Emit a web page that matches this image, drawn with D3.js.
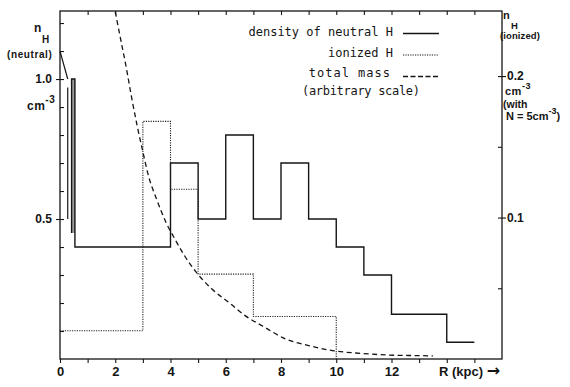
<!DOCTYPE html>
<html><head><meta charset="utf-8">
<script src="https://cdn.jsdelivr.net/npm/d3@7/dist/d3.min.js"></script>
<style>
html,body{margin:0;padding:0;background:#fff;}
svg{display:block;}
</style></head><body>
<svg id="c" width="570" height="387"></svg>
<script>
// ---------- data ----------
const xTickValues = [0,1,2,3,4,5,6,7,8,9,10,11,12,13,14,15];
const xTickLabels = ["0","","2","","4","","6","","8","","10","","12","","",""];
const leftTickValues = [0.1,0.2,0.3,0.4,0.5,0.6,0.7,0.8,0.9,1.0,1.1,1.2];
const leftTickLabels = ["","","","","0.5","","","","","1.0","",""];
const rightTickValues = [0.05,0.1,0.15,0.2];
const rightTickLabels = ["","0.1","","0.2"];

// density of neutral H (left scale), step edges R (kpc) and levels
const neutralR = [0.42,0.42,0.54,4,5,6,7,8,9,10,11,12,14,15];
const neutralN = [0.45,1.00,0.40,0.70,0.50,0.80,0.50,0.70,0.50,0.40,0.30,0.16,0.06,0.06];
// central feature of neutral H
const coreDiagR = [0,0.28];
const coreDiagN = [1.10,1.00];
const coreSpikeR = [0.28,0.28];
const coreSpikeN = [0.97,0.50];
const coreBarR = [0.44,0.54];
const coreBarN = [0.45,1.00];

// ionized H (right scale)
const ionizedR = [0,3,4,5,7,10];
const ionizedN = [0.020,0.168,0.120,0.060,0.030,0];

// total mass (arbitrary scale, plotted on left scale)
const massR = [2.0,2.2,2.4,2.6,2.8,3.0,3.2,3.5,3.85,4.15,4.5,4.93,5.5,6.14,6.7,7.33,8.18,9.0,9.86,10.9,11.91,13.0,13.5];
const massV = [1.24,1.14,1.04,0.93,0.83,0.74,0.655,0.57,0.485,0.43,0.37,0.31,0.25,0.20,0.155,0.118,0.071,0.048,0.030,0.020,0.014,0.012,0.011];

const legendLabels = ["density of neutral H","ionized H","total mass","(arbitrary scale)"];

// ---------- layout ----------
const svg = d3.select("#c");
const L = 60, R = 502, T = 11, B = 359;
const x = d3.scaleLinear().domain([0,16]).range([L,R]);
const yL = d3.scaleLinear().domain([0,1.243]).range([B,T]);
const yR = d3.scaleLinear().domain([0,0.246]).range([B,T]);
const ink = "#151515";
const sans = "'Liberation Sans', Arial, sans-serif";
const mono = "'DejaVu Sans Mono', monospace";

// frame
svg.append("rect").attr("x",L).attr("y",T).attr("width",R-L).attr("height",B-T)
  .attr("fill","none").attr("stroke",ink).attr("stroke-width",1.3);

function styleAxis(g){
  g.select(".domain").remove();
  g.selectAll("line").attr("stroke",ink).attr("stroke-width",1.1);
  g.selectAll("text").attr("fill",ink);
}

// bottom axis (outward ticks, labels)
svg.append("g").attr("transform",`translate(0,${B})`)
  .call(d3.axisBottom(x).tickValues(xTickValues).tickSize(4).tickPadding(4)
    .tickFormat((d,i)=>xTickLabels[i]))
  .call(styleAxis)
  .call(g=>g.selectAll("text").attr("font-family",sans).attr("font-size",13).attr("font-weight","bold"));
// top axis (inward ticks)
svg.append("g").attr("transform",`translate(0,${T})`)
  .call(d3.axisBottom(x).tickValues(xTickValues.slice(1)).tickSize(4).tickFormat(""))
  .call(styleAxis);

// left axis: inward ticks everywhere, outward part on labelled ticks
svg.append("g").attr("transform",`translate(${L},0)`)
  .call(d3.axisRight(yL).tickValues(leftTickValues).tickSize(4).tickFormat(""))
  .call(styleAxis);
svg.append("g").attr("transform",`translate(${L},0)`)
  .call(d3.axisLeft(yL).tickValues(leftTickValues.filter((d,i)=>leftTickLabels[i]!==""))
    .tickSize(4).tickPadding(4).tickFormat(d=>leftTickLabels[leftTickValues.indexOf(d)]))
  .call(styleAxis)
  .call(g=>g.selectAll("text").attr("font-family",sans).attr("font-size",12).attr("font-weight","bold"));

// right axis
svg.append("g").attr("transform",`translate(${R},0)`)
  .call(d3.axisLeft(yR).tickValues(rightTickValues).tickSize(4).tickFormat(""))
  .call(styleAxis);
svg.append("g").attr("transform",`translate(${R},0)`)
  .call(d3.axisRight(yR).tickValues(rightTickValues.filter((d,i)=>rightTickLabels[i]!==""))
    .tickSize(4).tickPadding(1).tickFormat(d=>rightTickLabels[rightTickValues.indexOf(d)]))
  .call(styleAxis)
  .call(g=>g.selectAll("text").attr("font-family",sans).attr("font-size",12).attr("font-weight","bold"));

// ---------- series ----------
const plot = svg.append("g");
const stepLine = (ys)=>d3.line().x(d=>x(d[0])).y(d=>ys(d[1])).curve(d3.curveStepAfter);

// gray core bar
plot.append("rect")
  .attr("x",x(coreBarR[0])).attr("width",x(coreBarR[1])-x(coreBarR[0]))
  .attr("y",yL(coreBarN[1])).attr("height",yL(coreBarN[0])-yL(coreBarN[1]))
  .attr("fill","#9a9a9a");

// neutral H
plot.append("path").datum(d3.zip(neutralR,neutralN))
  .attr("d",stepLine(yL)).attr("fill","none").attr("stroke",ink).attr("stroke-width",1.4);
const straight = d3.line().x(d=>x(d[0])).y(d=>yL(d[1]));
plot.append("path").datum(d3.zip(coreDiagR,coreDiagN))
  .attr("d",straight).attr("fill","none").attr("stroke",ink).attr("stroke-width",1.2);
plot.append("path").datum(d3.zip(coreSpikeR,coreSpikeN))
  .attr("d",straight).attr("fill","none").attr("stroke",ink).attr("stroke-width",1.2);

// ionized H
plot.append("path").datum(d3.zip(ionizedR,ionizedN))
  .attr("d",stepLine(yR)).attr("fill","none").attr("stroke","#222")
  .attr("stroke-width",1.1).attr("stroke-dasharray","1.2,1.2");

// total mass
plot.append("path").datum(d3.zip(massR,massV))
  .attr("d",d3.line().x(d=>x(d[0])).y(d=>yL(d[1])).curve(d3.curveMonotoneX))
  .attr("fill","none").attr("stroke",ink).attr("stroke-width",1.3).attr("stroke-dasharray","5,3.5");

// ---------- legend ----------
const lg = svg.append("g").attr("font-family",mono).attr("font-size",12).attr("fill",ink);
lg.append("text").attr("x",393).attr("y",36).attr("text-anchor","end").text(legendLabels[0]);
lg.append("text").attr("x",393).attr("y",57).attr("text-anchor","end").text(legendLabels[1]);
lg.append("text").attr("x",391).attr("y",77).attr("text-anchor","end").attr("letter-spacing",1).text(legendLabels[2]);
lg.append("text").attr("x",302).attr("y",95).attr("letter-spacing",-0.3).text(legendLabels[3]);
const sw = [[33.5,null],[55,"1.2,1.2"],[76.5,"5,2.5"]];
sw.forEach(([yy,da])=>{
  const l = svg.append("line").attr("x1",403).attr("x2",439).attr("y1",yy).attr("y2",yy)
    .attr("stroke",ink).attr("stroke-width",da==="1.2,1.2"?1.1:1.4);
  if(da) l.attr("stroke-dasharray",da);
});

// ---------- axis titles ----------
const at = svg.append("g").attr("font-family",sans).attr("fill",ink).attr("font-weight","bold");
// left
at.append("text").attr("x",34).attr("y",32).attr("font-size",12).text("n");
at.append("text").attr("x",42).attr("y",43).attr("font-size",10).text("H");
at.append("text").attr("x",7).attr("y",58).attr("font-size",10).attr("letter-spacing",0.6).text("(neutral)");
const cmL = at.append("text").attr("x",27).attr("y",110).attr("font-size",12).attr("letter-spacing",0.5);
cmL.append("tspan").text("cm");
cmL.append("tspan").attr("dy",-7).attr("font-size",10).text("-3");
// right
at.append("text").attr("x",503).attr("y",19).attr("font-size",11).text("n");
at.append("text").attr("x",511).attr("y",28.5).attr("font-size",9.5).text("H");
at.append("text").attr("x",500).attr("y",39).attr("font-size",9.5).attr("letter-spacing",0.1).text("(ionized)");
const cmR = at.append("text").attr("x",505).attr("y",95).attr("font-size",11).attr("letter-spacing",0.5);
cmR.append("tspan").text("cm");
cmR.append("tspan").attr("dy",-6).attr("font-size",9).text("-3");
at.append("text").attr("x",503).attr("y",108).attr("font-size",10.5).text("(with");
const nR = at.append("text").attr("x",506).attr("y",120).attr("font-size",11);
nR.append("tspan").text("N = 5cm");
nR.append("tspan").attr("dy",-6).attr("font-size",9).text("-3");
nR.append("tspan").attr("dy",6).text(")");
// bottom
const rl = at.append("text").attr("x",439).attr("y",376).attr("font-size",13);
rl.append("tspan").text("R (kpc) ");
rl.append("tspan").attr("font-size",16).attr("font-family","'DejaVu Sans', sans-serif").text("\u2192");
</script>
</body></html>
